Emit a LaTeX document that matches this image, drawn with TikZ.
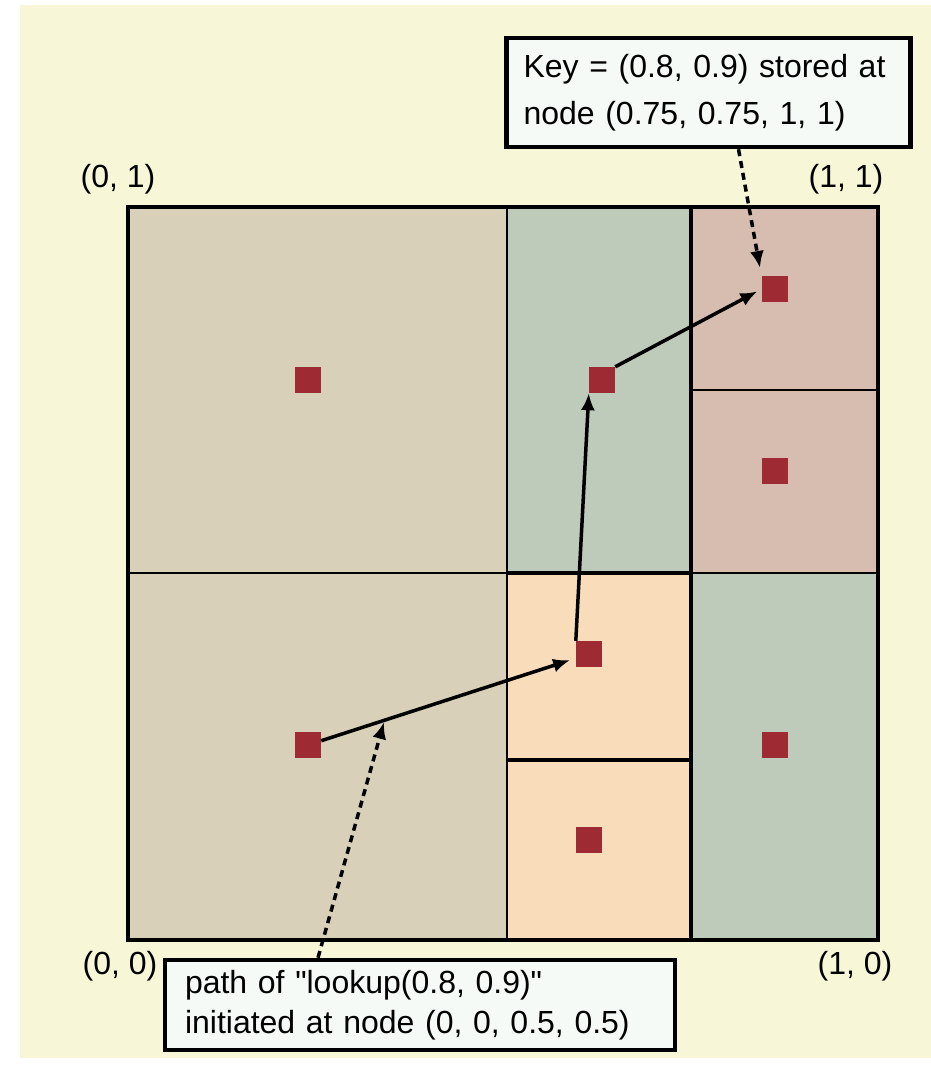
\documentclass[tikz,border=0pt]{standalone}
\usepackage{fontspec}
\setmainfont{Liberation Sans}
\usetikzlibrary{arrows.meta,positioning,calc}
\definecolor{bgyellow}{HTML}{F7F7D8}
\definecolor{tanzone}{HTML}{D8D0B9}
\definecolor{sagezone}{HTML}{BECABA}
\definecolor{peachzone}{HTML}{F9DDBA}
\definecolor{rosezone}{HTML}{D7BDB0}
\definecolor{dotred}{HTML}{9E2B34}
\definecolor{boxfill}{HTML}{F5FAF6}

\begin{document}
\begin{tikzpicture}[x=1pt,y=-1pt,>={Latex[length=17pt,width=14pt]},every node/.style={font=\fontsize{32}{40}\selectfont},
  keypt/.style={fill=dotred,minimum size=26pt,inner sep=0pt},
  notebox/.style={draw,line width=4.5pt,fill=boxfill,align=left},
  hop/.style={->,line width=3.5pt},
  pointer/.style={->,line width=3.5pt,dash pattern=on 7pt off 5pt}]
\useasboundingbox (0,0) rectangle (931,1081);
\fill[bgyellow] (20,5) rectangle (931,1058);
% zones of the unit square
\fill[tanzone] (128,207) rectangle (507,940);
\fill[sagezone] (507,207) rectangle (691,573);
\fill[peachzone] (507,573) rectangle (691,940);
\fill[rosezone] (691,207) rectangle (878,573);
\fill[sagezone] (691,573) rectangle (878,940);
\draw[line width=1.8pt] (128,573) -- (507,573) (691,390) -- (878,390) (691,573) -- (878,573);
\draw[line width=2.5pt] (507,207) -- (507,940);
\draw[line width=3.5pt] (691,207) -- (691,940) (507,573) -- (691,573) (507,760) -- (691,760);
\draw[line width=4.5pt] (128,207) rectangle (878,940);
% corners
\node (c01) at (118,179) {(0, 1)};
\node (c11) at (846,179) {(1, 1)};
\node (c00) at (120,966) {(0, 0)};
\node (c10) at (855,966) {(1, 0)};
% zone keys
\node[keypt] (ul) at (308,380) {};
\node[keypt] (ll) at (308,745) {};
\node[keypt] (mu) at (602,380) {};
\node[keypt] (mm) at (589,654) {};
\node[keypt] (mb) at (589,840) {};
\node[keypt] (rt) at (775,289) {};
\node[keypt] (rm) at (775,471) {};
\node[keypt] (rb) at (775,745) {};
% lookup path
\draw[hop,shorten >=6pt] (ll) -- (mm);
\draw[hop] (mm.north west) -- (mu.south west);
\draw[hop,shorten >=5pt] (mu.north east) -- (rt.west);
% notes
\node[notebox,text width=370pt,inner xsep=17pt,minimum height=109pt] (keybox) at (708.5,92.5) {Key = (0.8, 0.9) stored at\\[7pt]node (0.75, 0.75, 1, 1)};
\node[notebox,text width=470pt,inner xsep=20pt,minimum height=90pt] (pathbox) at (420,1005) {path of \textquotedbl lookup(0.8, 0.9)\textquotedbl\\initiated at node (0, 0, 0.5, 0.5)};
\coordinate (keytip) at (760,268);
\coordinate (pathtip) at (384,722);
\draw[pointer] ([xshift=30pt]keybox.south) -- (keytip);
\draw[pointer] ([xshift=-102pt]pathbox.north) -- (pathtip);
\end{tikzpicture}
\end{document}
